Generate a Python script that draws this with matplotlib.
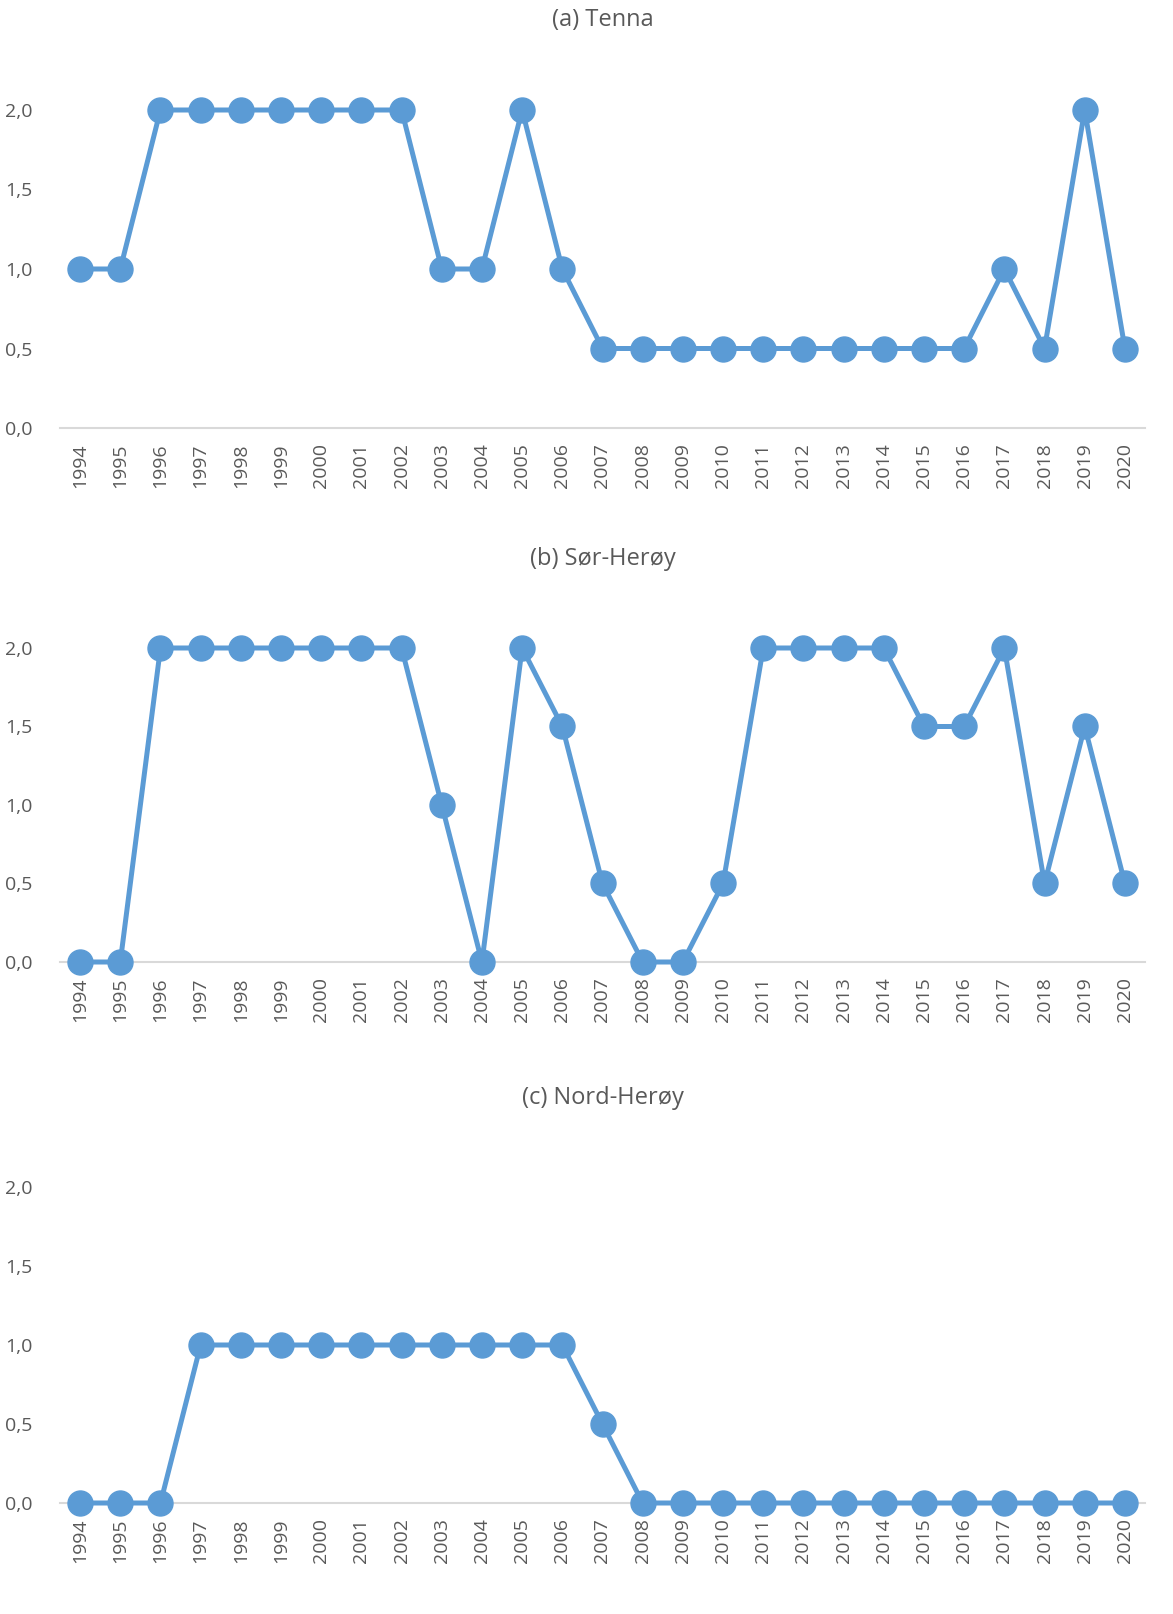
import matplotlib
matplotlib.use("Agg")
import matplotlib.pyplot as plt

plt.rcParams['font.family'] = ['Open Sans', 'DejaVu Sans']

years = list(range(1994, 2021))
year_labels = [str(y) for y in years]

tenna = [1, 1, 2, 2, 2, 2, 2, 2, 2, 1, 1, 2, 1,
         0.5, 0.5, 0.5, 0.5, 0.5, 0.5, 0.5, 0.5, 0.5, 0.5,
         1, 0.5, 2, 0.5]
sor_heroy = [0, 0, 2, 2, 2, 2, 2, 2, 2, 1, 0, 2, 1.5, 0.5, 0, 0, 0.5,
             2, 2, 2, 2, 1.5, 1.5, 2, 0.5, 1.5, 0.5]
nord_heroy = [0, 0, 0, 1, 1, 1, 1, 1, 1, 1, 1, 1, 1, 0.5,
              0, 0, 0, 0, 0, 0, 0, 0, 0, 0, 0, 0, 0]

titles = ["(a) Tenna", "(b) Sør-Herøy", "(c) Nord-Herøy"]
series = [tenna, sor_heroy, nord_heroy]
yticks = [0, 0.5, 1.0, 1.5, 2.0]
ytick_labels = ["0,0", "0,5", "1,0", "1,5", "2,0"]

W, H = 1173, 1614
fig = plt.figure(figsize=(W / 100, H / 100), dpi=100)

# pixel layout: (title_y, y_at_2, y_at_0)
layout = [(20, 110, 428), (559, 648, 962), (1098, 1187, 1503)]
x_left, x_right = 60, 1145
color = "#5B9BD5"
txt = "#595959"

for (ty, y2, y0), title, vals in zip(layout, titles, series):
    ax = fig.add_axes([x_left / W, 1 - y0 / H, (x_right - x_left) / W, (y0 - y2) / H])
    x = list(range(len(years)))
    ax.plot(x, vals, color=color, lw=3.6, marker='o', markersize=18,
            clip_on=False, zorder=3)
    ax.set_xlim(-0.5, len(years) - 0.5)
    ax.set_ylim(0, 2.0)
    ax.set_yticks(yticks)
    ax.set_yticklabels(ytick_labels, fontsize=14, color=txt)
    ax.set_xticks(x)
    ax.set_xticklabels(year_labels, rotation=90, fontsize=14, color=txt)
    for s in ["top", "right", "left"]:
        ax.spines[s].set_visible(False)
    ax.spines["bottom"].set_color("#D9D9D9")
    ax.spines["bottom"].set_linewidth(1.5)
    ax.spines["bottom"].set_zorder(1)
    ax.tick_params(axis='x', length=0, pad=11)
    ax.tick_params(axis='y', length=0, pad=20)
    fig.text(0.5 * (x_left + x_right) / W + 0.0, 1 - ty / H, title,
             ha='center', va='center', fontsize=17, color=txt)

fig.savefig("out.png", dpi=100)
